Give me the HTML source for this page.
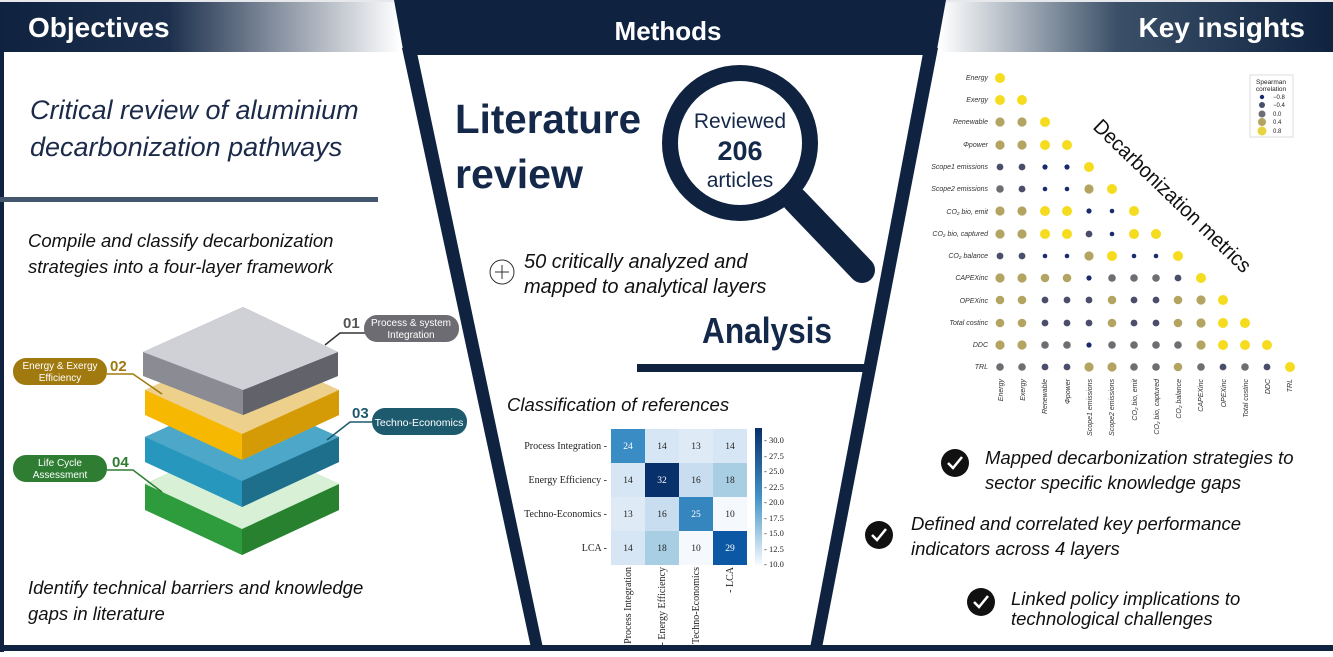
<!DOCTYPE html>
<html><head><meta charset="utf-8"><style>
html,body{margin:0;padding:0;background:#fff}
svg{display:block;font-family:"Liberation Sans",sans-serif}
</style></head><body>
<svg width="1333" height="657" viewBox="0 0 1333 657" xmlns="http://www.w3.org/2000/svg">
<defs>
<linearGradient id="gl" x1="0" x2="1"><stop offset="0" stop-color="#0f2340"/><stop offset="0.42" stop-color="#1c2f4c"/><stop offset="1" stop-color="#ffffff"/></linearGradient>
<linearGradient id="gr" x1="0" x2="1"><stop offset="0" stop-color="#ffffff"/><stop offset="0.45" stop-color="#3b5068"/><stop offset="1" stop-color="#0f2340"/></linearGradient>
<linearGradient id="cb" x1="0" y1="0" x2="0" y2="1"><stop offset="0" stop-color="#08306b"/><stop offset="0.5" stop-color="#4292c6"/><stop offset="1" stop-color="#f7fbff"/></linearGradient>
</defs>
<rect width="1333" height="657" fill="#fff"/>
<rect x="0" y="0" width="400" height="52" fill="url(#gl)"/>
<rect x="940" y="0" width="393" height="52" fill="url(#gr)"/>
<rect x="0" y="0" width="1333" height="2" fill="#e6e8ec"/>
<text x="28" y="37" font-size="28" font-weight="bold" fill="#fff">Objectives</text>
<text x="1305" y="37" font-size="28" font-weight="bold" fill="#fff" text-anchor="end">Key insights</text>
<rect x="0" y="52" width="4" height="600" fill="#0f2340"/>
<rect x="0" y="645" width="1333" height="6" fill="#0f2340"/>
<polygon points="394,0 946,0 936,55 404,55" fill="#0f2340"/>
<polygon points="402,48 416,48 543,648 531,648" fill="#0f2340"/>
<polygon points="924,48 938,48 822,648 810,648" fill="#0f2340"/>
<rect x="637" y="364" width="230" height="8" fill="#0f2340"/>
<text x="668" y="40" font-size="26" font-weight="bold" fill="#fff" text-anchor="middle">Methods</text>
<text x="30" y="119" font-size="27" font-style="italic" fill="#1c2a4a">Critical review of aluminium</text>
<text x="30" y="156" font-size="27" font-style="italic" fill="#1c2a4a">decarbonization pathways</text>
<rect x="0" y="197" width="378" height="5" fill="#44556e"/>
<text x="28" y="247" font-size="18.5" font-style="italic" fill="#111">Compile and classify decarbonization</text>
<text x="28" y="273" font-size="18.5" font-style="italic" fill="#111">strategies into a four-layer framework</text>
<text x="28" y="594" font-size="18.5" font-style="italic" fill="#111">Identify technical barriers and knowledge</text>
<text x="28" y="620" font-size="18.5" font-style="italic" fill="#111">gaps in literature</text>
<g>
 <polygon points="145,484 242,440 339,484 339,510 242,555 145,510" fill="#2e9c3c"/>
 <polygon points="242,529 339,484 339,510 242,555" fill="#27812f"/>
 <polygon points="145,484 242,440 339,484 242,529" fill="#d8f0d6"/>
 <polygon points="145,437 242,393 339,437 339,462 242,507 145,462" fill="#2797bd"/>
 <polygon points="242,481 339,437 339,462 242,507" fill="#1e6f8c"/>
 <polygon points="145,437 242,393 339,437 242,481" fill="#4da7c8"/>
 <polygon points="145,390 242,346 339,390 339,415 242,460 145,415" fill="#f6b800"/>
 <polygon points="242,434 339,390 339,415 242,460" fill="#d49b06"/>
 <polygon points="145,390 242,346 339,390 242,434" fill="#ecd08c"/>
 <polygon points="143,352 243,307 338,352 338,376 243,415 143,376" fill="#8b8b93"/>
 <polygon points="243,390 338,352 338,376 243,415" fill="#62626a"/>
 <polygon points="143,352 243,307 338,352 243,390" fill="#d0d1d6"/>
</g>
<polyline points="325,345 340,333 365,333" fill="none" stroke="#333" stroke-width="1.5"/>
<text x="343" y="328" font-size="15" font-weight="bold" fill="#555">01</text>
<rect x="364" y="315" width="95" height="27" rx="13" fill="#6c6c72"/>
<text x="411" y="326" font-size="10" fill="#fff" text-anchor="middle">Process &amp; system</text>
<text x="411" y="338" font-size="10" fill="#fff" text-anchor="middle">Integration</text>
<polyline points="107,374 133,374 162,394" fill="none" stroke="#a0790f" stroke-width="1.5"/>
<text x="110" y="371" font-size="15" font-weight="bold" fill="#a0790f">02</text>
<rect x="13" y="358" width="94" height="27" rx="13" fill="#a0790f"/>
<text x="60" y="369" font-size="10" fill="#fff" text-anchor="middle">Energy &amp; Exergy</text>
<text x="60" y="381" font-size="10" fill="#fff" text-anchor="middle">Efficiency</text>
<polyline points="327,440 350,422 372,422" fill="none" stroke="#1e5a6e" stroke-width="1.5"/>
<text x="352" y="418" font-size="15" font-weight="bold" fill="#1e5a6e">03</text>
<rect x="372" y="408" width="95" height="27" rx="13" fill="#1e5a6e"/>
<text x="419" y="426" font-size="10.5" fill="#fff" text-anchor="middle">Techno-Economics</text>
<polyline points="107,470 133,470 162,492" fill="none" stroke="#2e7d32" stroke-width="1.5"/>
<text x="112" y="467" font-size="15" font-weight="bold" fill="#2e7d32">04</text>
<rect x="13" y="455" width="94" height="27" rx="13" fill="#2e7d32"/>
<text x="60" y="466" font-size="10" fill="#fff" text-anchor="middle">Life Cycle</text>
<text x="60" y="478" font-size="10" fill="#fff" text-anchor="middle">Assessment</text>
<text x="455" y="133" font-size="41" font-weight="bold" fill="#14284a" textLength="186" lengthAdjust="spacingAndGlyphs">Literature</text>
<text x="455" y="188" font-size="41" font-weight="bold" fill="#14284a" textLength="128" lengthAdjust="spacingAndGlyphs">review</text>
<line x1="795" y1="200" x2="862" y2="270" stroke="#0f2340" stroke-width="26" stroke-linecap="round"/>
<circle cx="740" cy="143" r="70" fill="#fff" stroke="#0f2340" stroke-width="16"/>
<text x="740" y="128" font-size="21" fill="#14284a" text-anchor="middle">Reviewed</text>
<text x="740" y="160" font-size="27" font-weight="bold" fill="#14284a" text-anchor="middle">206</text>
<text x="740" y="187" font-size="21" fill="#14284a" text-anchor="middle">articles</text>
<circle cx="502" cy="272" r="12" fill="none" stroke="#333" stroke-width="1"/>
<line x1="495" y1="272" x2="509" y2="272" stroke="#333"/><line x1="502" y1="265" x2="502" y2="279" stroke="#333"/>
<text x="524" y="268" font-size="20" font-style="italic" fill="#111">50 critically analyzed and</text>
<text x="524" y="293" font-size="20" font-style="italic" fill="#111">mapped to analytical layers</text>
<text x="702" y="343" font-size="36" font-weight="bold" fill="#14284a" textLength="130" lengthAdjust="spacingAndGlyphs">Analysis</text>
<text x="507" y="411" font-size="18.5" font-style="italic" fill="#111">Classification of references</text>
<g style="font-family:'Liberation Serif',serif" font-size="9.5">
<rect x="611" y="429" width="34" height="34" fill="#3a8cc4"/><rect x="645" y="429" width="34" height="34" fill="#d6e6f4"/><rect x="679" y="429" width="34" height="34" fill="#deebf7"/><rect x="713" y="429" width="34" height="34" fill="#d6e6f4"/>
<rect x="611" y="463" width="34" height="34" fill="#d6e6f4"/><rect x="645" y="463" width="34" height="34" fill="#08306b"/><rect x="679" y="463" width="34" height="34" fill="#c8ddf0"/><rect x="713" y="463" width="34" height="34" fill="#a8cee4"/>
<rect x="611" y="497" width="34" height="34" fill="#deebf7"/><rect x="645" y="497" width="34" height="34" fill="#c8ddf0"/><rect x="679" y="497" width="34" height="34" fill="#3585bf"/><rect x="713" y="497" width="34" height="34" fill="#f5f9fe"/>
<rect x="611" y="531" width="34" height="34" fill="#d6e6f4"/><rect x="645" y="531" width="34" height="34" fill="#a8cee4"/><rect x="679" y="531" width="34" height="34" fill="#f5f9fe"/><rect x="713" y="531" width="34" height="34" fill="#0d58a4"/>
<g text-anchor="middle" fill="#222">
<text x="628" y="449" fill="#fff">24</text><text x="662" y="449">14</text><text x="696" y="449">13</text><text x="730" y="449">14</text>
<text x="628" y="483">14</text><text x="662" y="483" fill="#fff">32</text><text x="696" y="483">16</text><text x="730" y="483">18</text>
<text x="628" y="517">13</text><text x="662" y="517">16</text><text x="696" y="517" fill="#fff">25</text><text x="730" y="517">10</text>
<text x="628" y="551">14</text><text x="662" y="551">18</text><text x="696" y="551">10</text><text x="730" y="551" fill="#fff">29</text>
</g>
<g text-anchor="end" fill="#222" font-size="10">
<text x="607" y="449">Process Integration -</text><text x="607" y="483">Energy Efficiency -</text><text x="607" y="517">Techno-Economics -</text><text x="607" y="551">LCA -</text>
</g>
<g text-anchor="end" fill="#222" font-size="10">
<text transform="translate(631,567) rotate(-90)">- Process Integration</text>
<text transform="translate(665,567) rotate(-90)">- Energy Efficiency</text>
<text transform="translate(699,567) rotate(-90)">- Techno-Economics</text>
<text transform="translate(733,567) rotate(-90)">- LCA</text>
</g>
<rect x="755" y="428" width="7" height="137" fill="url(#cb)"/>
<g fill="#222" font-size="8.5">
<text x="764" y="443">- 30.0</text><text x="764" y="459">- 27.5</text><text x="764" y="474">- 25.0</text><text x="764" y="490">- 22.5</text><text x="764" y="505">- 20.0</text><text x="764" y="521">- 17.5</text><text x="764" y="536">- 15.0</text><text x="764" y="552">- 12.5</text><text x="764" y="567">- 10.0</text>
</g>
</g>
<g font-size="7" font-style="italic" fill="#333" text-anchor="end">
<text x="988" y="80">Energy</text><text x="988" y="102">Exergy</text><text x="988" y="124">Renewable</text><text x="988" y="147">Φpower</text><text x="988" y="169">Scope1 emissions</text><text x="988" y="191">Scope2 emissions</text><text x="988" y="214">CO₂ bio, emit</text><text x="988" y="236">CO₂ bio, captured</text><text x="988" y="258">CO₂ balance</text><text x="988" y="280">CAPEXinc</text><text x="988" y="303">OPEXinc</text><text x="988" y="325">Total costinc</text><text x="988" y="347">DDC</text><text x="988" y="369">TRL</text>
</g>
<g font-size="7" font-style="italic" fill="#333" text-anchor="end">
<text transform="translate(1003,379) rotate(-90)">Energy</text><text transform="translate(1025,379) rotate(-90)">Exergy</text><text transform="translate(1047,379) rotate(-90)">Renewable</text><text transform="translate(1070,379) rotate(-90)">Φpower</text><text transform="translate(1092,379) rotate(-90)">Scope1 emissions</text><text transform="translate(1114,379) rotate(-90)">Scope2 emissions</text><text transform="translate(1137,379) rotate(-90)">CO₂ bio, emit</text><text transform="translate(1159,379) rotate(-90)">CO₂ bio, captured</text><text transform="translate(1181,379) rotate(-90)">CO₂ balance</text><text transform="translate(1203,379) rotate(-90)">CAPEXinc</text><text transform="translate(1226,379) rotate(-90)">OPEXinc</text><text transform="translate(1248,379) rotate(-90)">Total costinc</text><text transform="translate(1270,379) rotate(-90)">DDC</text><text transform="translate(1292,379) rotate(-90)">TRL</text>
</g>
<g>
<rect x="1250" y="75" width="43" height="62" fill="#fff" stroke="#ddd"/>
<text x="1271" y="84" font-size="6.5" fill="#222" text-anchor="middle">Spearman</text>
<text x="1271" y="91" font-size="6.5" fill="#222" text-anchor="middle">correlation</text>
<circle cx="1262" cy="97" r="2.2" fill="#1a2a6c"/><text x="1273" y="99" font-size="6" fill="#222">−0.8</text>
<circle cx="1262" cy="105" r="3" fill="#4a4e6a"/><text x="1273" y="107" font-size="6" fill="#222">−0.4</text>
<circle cx="1262" cy="114" r="3.5" fill="#6e6e72"/><text x="1273" y="116" font-size="6" fill="#222">0.0</text>
<circle cx="1262" cy="122" r="4" fill="#b3a462"/><text x="1273" y="124" font-size="6" fill="#222">0.4</text>
<circle cx="1262" cy="131" r="4.5" fill="#e8d440"/><text x="1273" y="133" font-size="6" fill="#222">0.8</text>
</g>
<text transform="translate(1092,128) rotate(44)" font-size="21" fill="#111" textLength="210" lengthAdjust="spacingAndGlyphs">Decarbonization metrics</text>
<circle cx="955" cy="463" r="14" fill="#111"/><polyline points="948,463 953,468 962,457" fill="none" stroke="#fff" stroke-width="2.5"/>
<text x="985" y="464" font-size="18.5" font-style="italic" fill="#111">Mapped decarbonization strategies to</text>
<text x="985" y="489" font-size="18.5" font-style="italic" fill="#111">sector specific knowledge gaps</text>
<circle cx="879" cy="535" r="14" fill="#111"/><polyline points="872,535 877,540 886,529" fill="none" stroke="#fff" stroke-width="2.5"/>
<text x="911" y="530" font-size="18.5" font-style="italic" fill="#111">Defined and correlated key performance</text>
<text x="911" y="555" font-size="18.5" font-style="italic" fill="#111">indicators across 4 layers</text>
<circle cx="981" cy="602" r="14" fill="#111"/><polyline points="974,602 979,607 988,596" fill="none" stroke="#fff" stroke-width="2.5"/>
<text x="1011" y="605" font-size="18.5" font-style="italic" fill="#111">Linked policy implications to</text>
<text x="1011" y="625" font-size="18.5" font-style="italic" fill="#111">technological challenges</text>
<g>
<g fill="#f5dc1e"><circle cx="1000" cy="78" r="5"/><circle cx="1000" cy="100" r="5"/><circle cx="1022" cy="100" r="5"/><circle cx="1045" cy="122" r="5"/><circle cx="1045" cy="145" r="5"/><circle cx="1067" cy="145" r="5"/><circle cx="1089" cy="167" r="5"/><circle cx="1112" cy="189" r="5"/><circle cx="1045" cy="211" r="5"/><circle cx="1067" cy="211" r="5"/><circle cx="1134" cy="211" r="5"/><circle cx="1045" cy="234" r="5"/><circle cx="1067" cy="234" r="5"/><circle cx="1134" cy="234" r="5"/><circle cx="1156" cy="234" r="5"/><circle cx="1112" cy="256" r="5"/><circle cx="1178" cy="256" r="5"/><circle cx="1201" cy="278" r="5"/><circle cx="1223" cy="300" r="5"/><circle cx="1223" cy="323" r="5"/><circle cx="1245" cy="323" r="5"/><circle cx="1223" cy="345" r="5"/><circle cx="1245" cy="345" r="5"/><circle cx="1267" cy="345" r="5"/><circle cx="1290" cy="367" r="5"/></g>
<g fill="#b3a462"><circle cx="1000" cy="122" r="4.6"/><circle cx="1022" cy="122" r="4.6"/><circle cx="1000" cy="145" r="4.6"/><circle cx="1022" cy="145" r="4.6"/><circle cx="1089" cy="189" r="4.6"/><circle cx="1000" cy="211" r="4.6"/><circle cx="1022" cy="211" r="4.6"/><circle cx="1000" cy="234" r="4.6"/><circle cx="1022" cy="234" r="4.6"/><circle cx="1089" cy="256" r="4.6"/><circle cx="1000" cy="278" r="4.6"/><circle cx="1022" cy="278" r="4.6"/><circle cx="1045" cy="278" r="4.3"/><circle cx="1067" cy="278" r="4.3"/><circle cx="1000" cy="300" r="4.3"/><circle cx="1022" cy="300" r="4.3"/><circle cx="1112" cy="300" r="4.3"/><circle cx="1178" cy="300" r="4.3"/><circle cx="1201" cy="300" r="4.6"/><circle cx="1000" cy="323" r="4.3"/><circle cx="1022" cy="323" r="4.3"/><circle cx="1112" cy="323" r="4.3"/><circle cx="1178" cy="323" r="4.3"/><circle cx="1201" cy="323" r="4.6"/><circle cx="1000" cy="345" r="4.6"/><circle cx="1022" cy="345" r="4.6"/><circle cx="1201" cy="345" r="4.6"/><circle cx="1089" cy="367" r="4.6"/><circle cx="1112" cy="367" r="4.6"/><circle cx="1178" cy="367" r="4.3"/></g>
<g fill="#6e6e72"><circle cx="1000" cy="189" r="3.8"/><circle cx="1112" cy="278" r="3.8"/><circle cx="1134" cy="278" r="3.8"/><circle cx="1156" cy="278" r="3.8"/><circle cx="1045" cy="345" r="3.8"/><circle cx="1067" cy="345" r="3.8"/><circle cx="1112" cy="345" r="3.8"/><circle cx="1134" cy="345" r="3.8"/><circle cx="1156" cy="345" r="3.8"/><circle cx="1178" cy="345" r="3.8"/><circle cx="1000" cy="367" r="3.8"/><circle cx="1022" cy="367" r="3.8"/><circle cx="1134" cy="367" r="3.8"/><circle cx="1156" cy="367" r="3.8"/><circle cx="1201" cy="367" r="3.8"/><circle cx="1245" cy="367" r="3.8"/></g>
<g fill="#4a4e6a"><circle cx="1000" cy="167" r="3.4"/><circle cx="1022" cy="167" r="3.4"/><circle cx="1022" cy="189" r="3.4"/><circle cx="1089" cy="234" r="3.4"/><circle cx="1000" cy="256" r="3.4"/><circle cx="1022" cy="256" r="3.4"/><circle cx="1178" cy="278" r="3.4"/><circle cx="1045" cy="300" r="3.4"/><circle cx="1067" cy="300" r="3.4"/><circle cx="1089" cy="300" r="3.4"/><circle cx="1134" cy="300" r="3.4"/><circle cx="1156" cy="300" r="3.4"/><circle cx="1045" cy="323" r="3.4"/><circle cx="1067" cy="323" r="3.4"/><circle cx="1089" cy="323" r="3.4"/><circle cx="1134" cy="323" r="3.4"/><circle cx="1156" cy="323" r="3.4"/><circle cx="1045" cy="367" r="3.4"/><circle cx="1067" cy="367" r="3.4"/><circle cx="1223" cy="367" r="3.4"/><circle cx="1267" cy="367" r="3.4"/></g>
<g fill="#1a2a6c"><circle cx="1045" cy="167" r="2.6"/><circle cx="1067" cy="167" r="2.6"/><circle cx="1045" cy="189" r="2.3"/><circle cx="1067" cy="189" r="2.3"/><circle cx="1089" cy="211" r="2.6"/><circle cx="1112" cy="211" r="2.3"/><circle cx="1112" cy="234" r="2.3"/><circle cx="1045" cy="256" r="2.3"/><circle cx="1067" cy="256" r="2.3"/><circle cx="1134" cy="256" r="2.3"/><circle cx="1156" cy="256" r="2.3"/><circle cx="1089" cy="278" r="2.6"/><circle cx="1089" cy="345" r="2.6"/></g>
</g>
</svg>
</body></html>
